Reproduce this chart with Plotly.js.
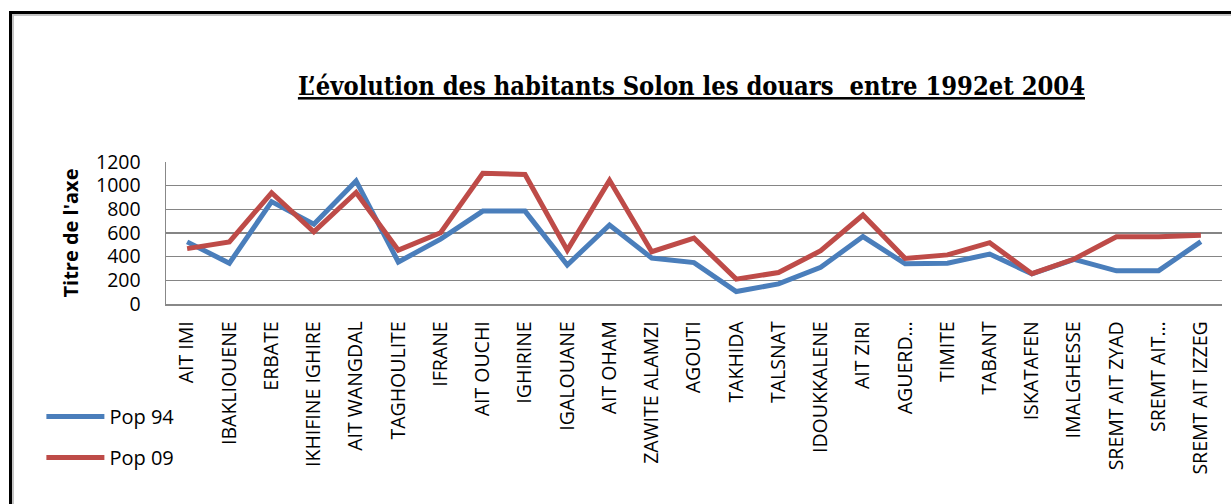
<!DOCTYPE html>
<html><head><meta charset="utf-8">
<script src="https://cdn.plot.ly/plotly-3.0.1.min.js"></script>
<style>
body{margin:0;background:#fff;overflow:hidden;}
#frame{position:absolute;left:9px;top:11px;width:1260px;height:540px;border-left:3px solid #000;border-top:3px solid #000;pointer-events:none;box-shadow: inset 2px 2px 0 #c4c4c4;}
</style>
</head><body>
<div id="chart" style="width:1231px;height:504px;"></div>
<div id="frame"></div>
<script>
const categories = ["AIT IMI","IBAKLIOUENE","ERBATE","IKHIFINE IGHIRE","AIT WANGDAL","TAGHOULITE","IFRANE","AIT OUCHI","IGHIRINE","IGALOUANE","AIT OHAM","ZAWITE ALAMZI","AGOUTI","TAKHIDA","TALSNAT","IDOUKKALENE","AIT ZIRI","AGUERD…","TIMITE","TABANT","ISKATAFEN","IMALGHESSE","SREMT AIT ZYAD","SREMT AIT…","SREMT AIT IZZEG"];
const pop94 = [525,345,865,675,1040,355,548,785,785,330,668,388,350,105,170,310,570,340,345,422,255,378,280,282,527];
const pop09 = [468,525,940,610,942,455,602,1105,1095,455,1045,442,556,210,266,450,752,385,415,518,256,380,568,568,582];
const yTicks = [0,200,400,600,800,1000,1200];
const seriesNames = ["Pop 94","Pop 09"];
const titleText = "L’évolution des habitants Solon les douars  entre 1992et 2004";
const yTitleText = "Titre de l'axe";

const font = "'Open Sans', sans-serif";
const traces = [
  {x: categories, y: pop94, name: seriesNames[0], type: "scatter", mode: "lines",
   line: {color: "#4a7ebb", width: 5}, legendgroup: "a"},
  {x: categories, y: pop09, name: seriesNames[1], type: "scatter", mode: "lines",
   line: {color: "#be4b48", width: 5}, legendgroup: "b"}
];
const layout = {
  width: 1231, height: 504,
  margin: {l: 166, r: 9, t: 162, b: 200},
  paper_bgcolor: "#fff", plot_bgcolor: "#fff",
  font: {family: font, size: 20, color: "#000"},
  title: {text: "<u>" + titleText + "</u>",
          font: {family: "'DejaVu Serif Condensed', 'DejaVu Serif', serif", size: 25.3, weight: "bold", color: "#000"},
          x: 0.4976, xanchor: "center", y: 0.829, yanchor: "middle", xref: "paper"},
  xaxis: {type: "category", range: [-0.5, 24.5], tickangle: -90, showgrid: false,
          showline: true, linecolor: "#888", linewidth: 1.5, ticks: "",
          ticklabelstandoff: 8, tickfont: {family: font, size: 19.5, color: "#000"}},
  yaxis: {range: [0, 1200], tickvals: yTicks, showgrid: true, gridcolor: "#858585", gridwidth: 1.6,
          zeroline: false, showline: true, linecolor: "#888", linewidth: 1.5, ticks: "",
          ticklabelstandoff: 20, tickfont: {family: font, size: 19.5, color: "#000"},
          title: {text: yTitleText, font: {family: font, size: 20, weight: "bold", color: "#000"}, standoff: 12}},
  showlegend: true,
  legend: {x: -0.118, xanchor: "left", y: -0.655, yanchor: "top", traceorder: "grouped",
           itemwidth: 58, tracegroupgap: 12, font: {family: font, size: 20, color: "#000"}, bgcolor: "rgba(0,0,0,0)"}
};
Plotly.newPlot("chart", traces, layout, {displayModeBar: false, staticPlot: true});
</script>
</body></html>
